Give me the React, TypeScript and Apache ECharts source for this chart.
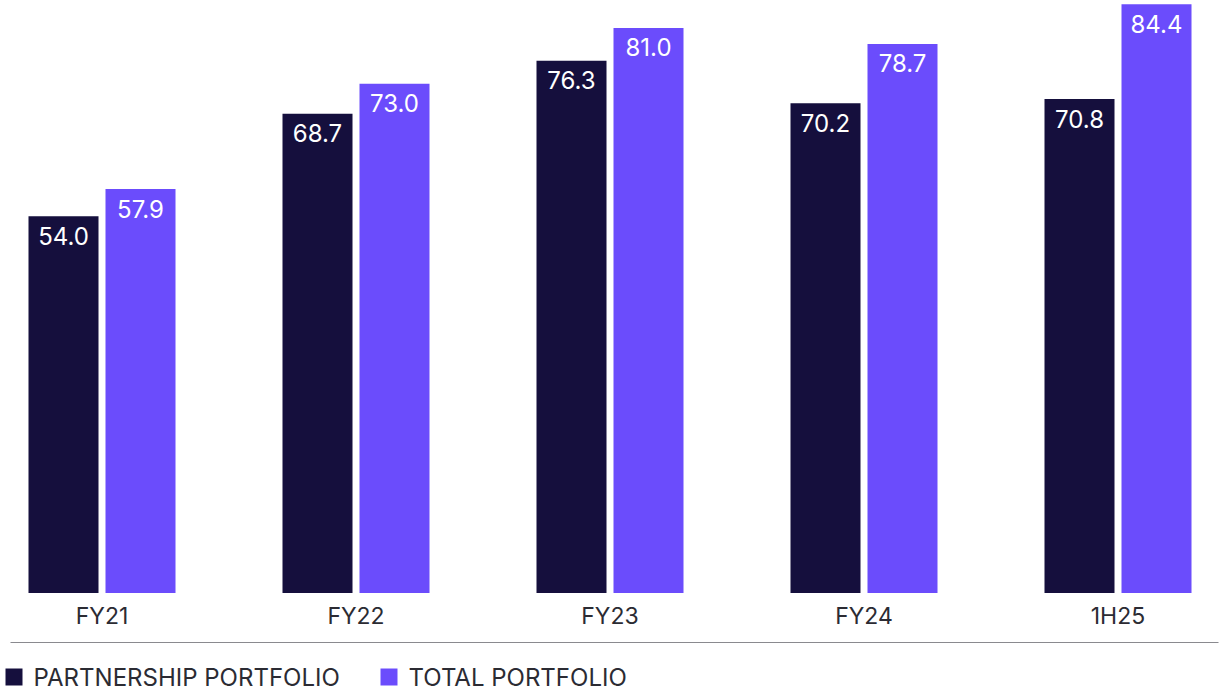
import React, { useEffect, useRef } from "react";
import * as echarts from "echarts";

const categories = ["FY21", "FY22", "FY23", "FY24", "1H25"];
const partnershipPortfolio = [54.0, 68.7, 76.3, 70.2, 70.8];
const totalPortfolio = [57.9, 73.0, 81.0, 78.7, 84.4];
const seriesNames = ["PARTNERSHIP PORTFOLIO", "TOTAL PORTFOLIO"];

const DARK = "#150f3d";
const PURPLE = "#6b4cfc";
const TEXT = "#2b2b33";
const FONT = "Inter, 'Noto Sans', sans-serif";

// The chart canvas is a little wider than the page so the outer category
// bands can run past the edges; OFFSET maps page x to canvas x.
const OFFSET = 25.5;
const CANVAS_W = 1270;

export default function App() {
  const ref = useRef<HTMLDivElement>(null);

  useEffect(() => {
    if (!ref.current) return;
    const chart = echarts.init(ref.current, undefined, { renderer: "svg" });

    const valueLabel = {
      show: true,
      position: "insideTop",
      distance: 8,
      color: "#ffffff",
      fontSize: 24,
      fontFamily: FONT,
      formatter: (p: any) => Number(p.value).toFixed(1),
    };

    const legendBase = {
      top: 665,
      padding: 0,
      itemWidth: 17,
      itemHeight: 17,
      icon: "rect",
      textStyle: { fontSize: 24, color: TEXT, fontFamily: FONT, padding: [0, 0, 0, 6] },
    };

    chart.setOption({
      animation: false,
      backgroundColor: "#ffffff",
      grid: { left: 0, right: 0, top: 0, bottom: 100, containLabel: false },
      legend: [
        { ...legendBase, left: 5 + OFFSET, data: [seriesNames[0]] },
        { ...legendBase, left: 380 + OFFSET, data: [seriesNames[1]] },
      ],
      xAxis: {
        type: "category",
        data: categories,
        axisLine: { show: false },
        axisTick: { show: false },
        axisLabel: { margin: 11, fontSize: 23, color: TEXT, fontFamily: FONT },
      },
      yAxis: {
        type: "value",
        min: 0,
        max: 85,
        show: false,
        splitLine: { show: false },
      },
      series: [
        {
          name: seriesNames[0],
          type: "bar",
          data: partnershipPortfolio,
          barWidth: 70,
          barGap: "10%",
          itemStyle: { color: DARK },
          label: valueLabel,
        },
        {
          name: seriesNames[1],
          type: "bar",
          data: totalPortfolio,
          barWidth: 70,
          barGap: "10%",
          itemStyle: { color: PURPLE },
          label: valueLabel,
        },
      ],
      graphic: [
        {
          type: "line",
          shape: { x1: 10 + OFFSET, y1: 642.5, x2: 1218 + OFFSET, y2: 642.5 },
          style: { stroke: "#8a8a8f", lineWidth: 1.2 },
        },
      ],
    });

    return () => chart.dispose();
  }, []);

  return (
    <div
      style={{
        position: "fixed",
        left: 0,
        top: 0,
        width: 1229,
        height: 693,
        overflow: "hidden",
        background: "#ffffff",
      }}
    >
      <div
        ref={ref}
        style={{ position: "absolute", left: -OFFSET, top: 0, width: CANVAS_W, height: 693 }}
      />
    </div>
  );
}
